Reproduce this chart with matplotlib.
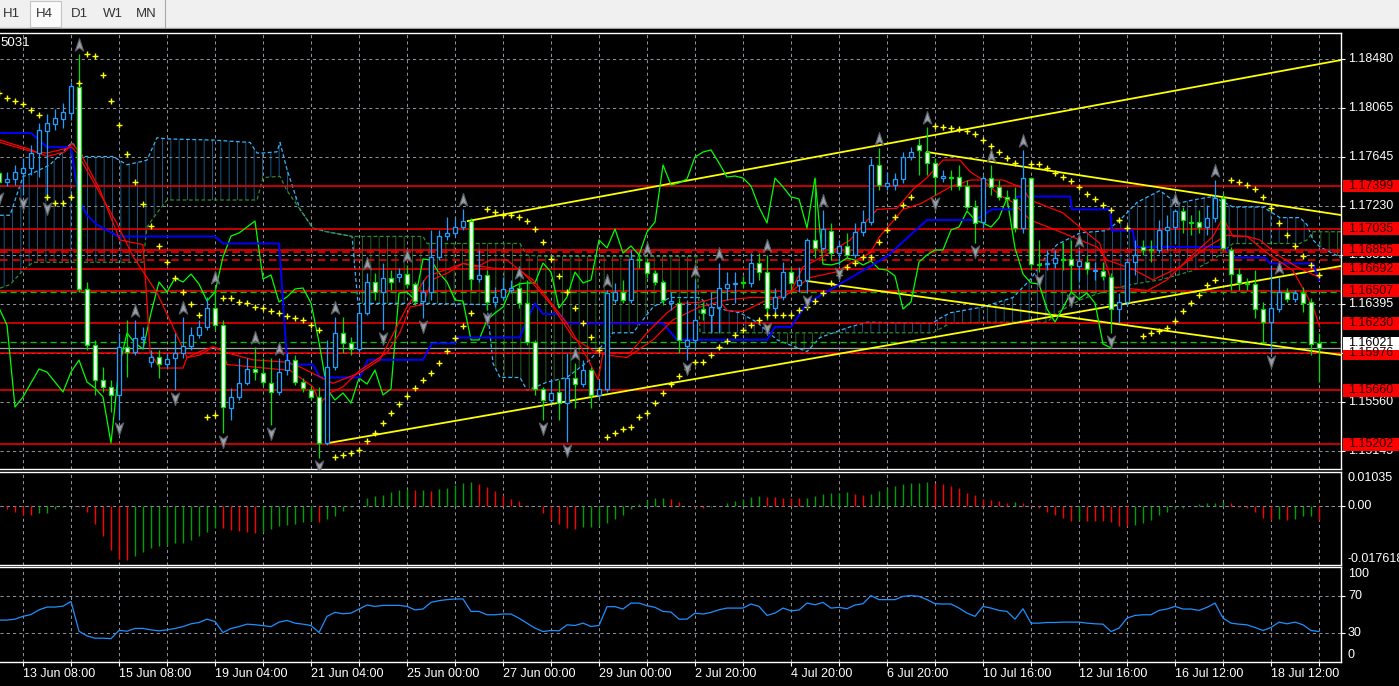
import numpy as np
import matplotlib
matplotlib.use('Agg')
import matplotlib.pyplot as plt
import matplotlib.transforms as mtransforms
from matplotlib.patches import Rectangle
from matplotlib.path import Path

# ---- H4 candles (EURUSD) ----
opens = [1.17510, 1.17433, 1.17459, 1.17510, 1.17552, 1.17680, 1.17867, 1.17927, 1.17969, 1.18020,
         1.18242, 1.16523, 1.16046, 1.15748, 1.15689, 1.15621, 1.16029, 1.15986, 1.16097, 1.15901,
         1.15944, 1.15884, 1.15935, 1.15978, 1.16038, 1.16131, 1.16199, 1.16361, 1.16216, 1.15510,
         1.15604, 1.15723, 1.15842, 1.15808, 1.15723, 1.15646, 1.15833, 1.15918, 1.15731, 1.15663,
         1.15604, 1.15212, 1.15859, 1.16148, 1.16063, 1.16012, 1.16318, 1.16582, 1.16497, 1.16616,
         1.16625, 1.16650, 1.16565, 1.16420, 1.16497, 1.16795, 1.16974, 1.16999, 1.17050, 1.17101,
         1.16608, 1.16642, 1.16412, 1.16455, 1.16514, 1.16531, 1.16403, 1.16072, 1.15672, 1.15578,
         1.15646, 1.15552, 1.15765, 1.15714, 1.15833, 1.15621, 1.15672, 1.16429, 1.16497, 1.16429,
         1.16778, 1.16752, 1.16659, 1.16582, 1.16403, 1.16403, 1.16038, 1.16089, 1.16352, 1.16301,
         1.16369, 1.16531, 1.16565, 1.16582, 1.16574, 1.16744, 1.16667, 1.16361, 1.16455, 1.16667,
         1.16557, 1.16599, 1.16940, 1.16872, 1.17016, 1.16829, 1.16889, 1.16812, 1.17008, 1.17093,
         1.17578, 1.17399, 1.17408, 1.17459, 1.17646, 1.17748, 1.17688, 1.17595, 1.17467, 1.17476,
         1.17476, 1.17399, 1.17220, 1.17093, 1.17467, 1.17391, 1.17306, 1.17289, 1.17042, 1.17467,
         1.16735, 1.16735, 1.16744, 1.16778, 1.16778, 1.16718, 1.16752, 1.16676, 1.16676, 1.16625,
         1.16352, 1.16412, 1.16752, 1.16880, 1.16863, 1.16855, 1.17025, 1.17050, 1.17186, 1.17093,
         1.17093, 1.17050, 1.17127, 1.17297, 1.16855, 1.16650, 1.16574, 1.16565, 1.16352, 1.16242,
         1.16352, 1.16497, 1.16438, 1.16489, 1.16412, 1.16063]
highs = [1.17535, 1.17518, 1.17578, 1.17637, 1.17748, 1.17935, 1.18012, 1.18054, 1.18105, 1.18284,
         1.18522, 1.16582, 1.16089, 1.15859, 1.15748, 1.16148, 1.16259, 1.16259, 1.16199, 1.16003,
         1.16003, 1.15978, 1.16148, 1.16284, 1.16199, 1.16259, 1.16455, 1.16540, 1.16259, 1.15680,
         1.15935, 1.15935, 1.16029, 1.15935, 1.15935, 1.15935, 1.15978, 1.15961, 1.15765, 1.15697,
         1.15689, 1.16089, 1.16284, 1.16284, 1.16114, 1.16403, 1.16659, 1.16659, 1.16744, 1.16684,
         1.16701, 1.16727, 1.16582, 1.16599, 1.17025, 1.17025, 1.17135, 1.17135, 1.17203, 1.17127,
         1.16854, 1.16684, 1.16540, 1.16625, 1.16599, 1.16582, 1.16599, 1.16089, 1.15689, 1.15740,
         1.15748, 1.15978, 1.15893, 1.15918, 1.15859, 1.15748, 1.16514, 1.16574, 1.16599, 1.16854,
         1.16820, 1.16786, 1.16684, 1.16599, 1.16497, 1.16446, 1.16429, 1.16599, 1.16412, 1.16497,
         1.16744, 1.16667, 1.16667, 1.16633, 1.16829, 1.16829, 1.16812, 1.16531, 1.16752, 1.16710,
         1.16710, 1.16957, 1.17467, 1.17195, 1.17084, 1.16940, 1.16999, 1.17084, 1.17195, 1.17637,
         1.17723, 1.17518, 1.17510, 1.17688, 1.17731, 1.17808, 1.17901, 1.17637, 1.17535, 1.17535,
         1.17578, 1.17450, 1.17280, 1.17493, 1.17578, 1.17450, 1.17365, 1.17391, 1.17706, 1.17476,
         1.16940, 1.16854, 1.16854, 1.16923, 1.16940, 1.16854, 1.16812, 1.16752, 1.16752, 1.16659,
         1.16489, 1.16786, 1.16940, 1.16940, 1.16940, 1.17110, 1.17152, 1.17203, 1.17220, 1.17152,
         1.17195, 1.17237, 1.17450, 1.17340, 1.16880, 1.16701, 1.16616, 1.16684, 1.16412, 1.16727,
         1.16625, 1.16531, 1.16514, 1.16540, 1.16446, 1.16148]
lows = [1.17365, 1.17399, 1.17408, 1.17323, 1.17493, 1.17476, 1.17280, 1.17876, 1.17893, 1.17961,
        1.16497, 1.16003, 1.15621, 1.15646, 1.15476, 1.15408, 1.15774, 1.15961, 1.16021, 1.15859,
        1.15765, 1.15850, 1.15663, 1.15935, 1.16003, 1.16106, 1.16174, 1.16174, 1.15297, 1.15408,
        1.15578, 1.15706, 1.15748, 1.15697, 1.15365, 1.15621, 1.15791, 1.15706, 1.15646, 1.15578,
        1.15084, 1.15195, 1.15833, 1.15978, 1.15961, 1.15986, 1.16301, 1.16429, 1.16174, 1.16514,
        1.16582, 1.16531, 1.16386, 1.16276, 1.16429, 1.16769, 1.16940, 1.16974, 1.17025, 1.16514,
        1.16582, 1.16344, 1.16369, 1.16429, 1.16489, 1.16361, 1.16046, 1.15621, 1.15408, 1.15552,
        1.15408, 1.15221, 1.15510, 1.15689, 1.15510, 1.15595, 1.15646, 1.16403, 1.16403, 1.16403,
        1.16701, 1.16616, 1.16557, 1.16386, 1.16344, 1.15978, 1.15918, 1.16029, 1.16259, 1.16148,
        1.16148, 1.16429, 1.16403, 1.16531, 1.16540, 1.16599, 1.16259, 1.16301, 1.16429, 1.16514,
        1.16497, 1.16489, 1.16786, 1.16855, 1.16769, 1.16727, 1.16786, 1.16786, 1.16974, 1.17067,
        1.17365, 1.17365, 1.17365, 1.17425, 1.17620, 1.17493, 1.17493, 1.17323, 1.17433, 1.17365,
        1.17365, 1.17195, 1.16914, 1.17042, 1.17323, 1.17280, 1.17237, 1.17008, 1.16999, 1.16684,
        1.16667, 1.16684, 1.16701, 1.16684, 1.16497, 1.16599, 1.16650, 1.16599, 1.16599, 1.16148,
        1.16233, 1.16386, 1.16642, 1.16812, 1.16752, 1.16829, 1.16855, 1.16914, 1.16999, 1.16982,
        1.16999, 1.16982, 1.17093, 1.16855, 1.16514, 1.16514, 1.16514, 1.16276, 1.16063, 1.15978,
        1.16327, 1.16412, 1.16412, 1.16327, 1.15961, 1.15731]
closes = [1.17433, 1.17459, 1.17518, 1.17552, 1.17680, 1.17876, 1.17935, 1.17978, 1.18029, 1.18250,
          1.16523, 1.16046, 1.15748, 1.15689, 1.15621, 1.16029, 1.15986, 1.16106, 1.16114, 1.15944,
          1.15884, 1.15927, 1.15978, 1.16038, 1.16131, 1.16199, 1.16361, 1.16216, 1.15518, 1.15604,
          1.15723, 1.15842, 1.15816, 1.15731, 1.15646, 1.15816, 1.15918, 1.15731, 1.15680, 1.15604,
          1.15212, 1.15859, 1.16148, 1.16063, 1.16012, 1.16318, 1.16582, 1.16497, 1.16616, 1.16582,
          1.16650, 1.16565, 1.16420, 1.16497, 1.16795, 1.16974, 1.16999, 1.17050, 1.17101, 1.16608,
          1.16642, 1.16412, 1.16455, 1.16523, 1.16531, 1.16403, 1.16072, 1.15672, 1.15578, 1.15638,
          1.15552, 1.15765, 1.15714, 1.15833, 1.15621, 1.15672, 1.16489, 1.16497, 1.16429, 1.16778,
          1.16769, 1.16659, 1.16582, 1.16429, 1.16420, 1.16089, 1.16089, 1.16259, 1.16318, 1.16369,
          1.16531, 1.16565, 1.16574, 1.16574, 1.16744, 1.16667, 1.16361, 1.16455, 1.16667, 1.16574,
          1.16599, 1.16940, 1.16872, 1.17033, 1.16829, 1.16889, 1.16812, 1.17008, 1.17093, 1.17578,
          1.17408, 1.17425, 1.17459, 1.17646, 1.17688, 1.17706, 1.17595, 1.17476, 1.17484, 1.17467,
          1.17399, 1.17220, 1.17084, 1.17467, 1.17391, 1.17306, 1.17289, 1.17042, 1.17467, 1.16735,
          1.16727, 1.16744, 1.16786, 1.16769, 1.16727, 1.16761, 1.16693, 1.16684, 1.16633, 1.16352,
          1.16412, 1.16752, 1.16812, 1.16855, 1.16855, 1.17025, 1.17050, 1.17186, 1.17110, 1.17084,
          1.17050, 1.17127, 1.17297, 1.16872, 1.16650, 1.16574, 1.16565, 1.16352, 1.16242, 1.16361,
          1.16497, 1.16438, 1.16489, 1.16403, 1.16055, 1.16021]

# ---- indicator lines (bar index, price) ----
tenkan_x = [0.13, 3.9, 6, 8.25, 9.1, 10.1, 12.6, 15.1, 18, 18.4, 18.9, 20.1, 23, 23.5, 25.1, 26.75, 28, 28.5,
            36.4, 37.6, 39.25, 40.1, 41.4, 43, 45.1, 48.5, 50.1, 51.4, 53, 54.1, 56.1, 58, 59.75, 61.4, 63.5,
            65.1, 66.75, 68.5, 71, 73.5, 74.9, 75.5, 78.9, 81, 83.5, 85.1, 87.6, 89.75, 91, 93, 96, 98, 99.75,
            101.4, 104.75, 106.4, 108.9, 110.1, 113, 115.25, 118.9, 121.4, 125.5, 128, 128.9, 133, 135.1,
            137.6, 139.25, 143.6, 146, 148.5, 151.75, 153, 154.25, 156, 158.5, 161.75, 164.25, 165.1]
tenkan_y = [1.1779, 1.1771, 1.1765, 1.1769, 1.1776, 1.1769, 1.1737, 1.1694, 1.1690, 1.1651, 1.1598, 1.1585,
            1.1585, 1.1594, 1.1599, 1.1603, 1.1600, 1.1588, 1.1583, 1.1577, 1.1569, 1.1555, 1.1564, 1.1569,
            1.1583, 1.1598, 1.1615, 1.1637, 1.1639, 1.1660, 1.1666, 1.1674, 1.1671, 1.1677, 1.1677, 1.1668,
            1.1660, 1.1645, 1.1623, 1.1594, 1.1575, 1.1598, 1.1598, 1.1615, 1.1632, 1.1640, 1.1641, 1.1645,
            1.1634, 1.1633, 1.1643, 1.1645, 1.1654, 1.1662, 1.1667, 1.1674, 1.1683, 1.1697, 1.1720, 1.1725,
            1.1739, 1.1745, 1.1745, 1.1738, 1.1728, 1.1717, 1.1705, 1.1691, 1.1654, 1.1651, 1.1660, 1.1677,
            1.1697, 1.1713, 1.1697, 1.1697, 1.1683, 1.1668, 1.1637, 1.1620]
ma_x = [0.13, 4.25, 6, 9.1, 9.75, 14.75, 16.75, 19.75, 21.75, 23.5, 25.1, 26.75, 28.5, 31.75, 36, 37.6, 41.75,
        45.1, 47.6, 51, 53.5, 58, 61.75, 65.1, 66.75, 69.25, 71.75, 74.25, 76, 78.5, 81.75, 84.25, 87.6, 91,
        93.9, 97.25, 98.9, 100.5, 103, 106.4, 109.75, 112.25, 114.25, 116, 118, 120.1, 121.4, 123, 125.1,
        126.75, 128.9, 132.6, 135.1, 137.25, 138.5, 141.75, 144.25, 147.6, 151, 153.5, 156, 157.6, 160.1,
        162.25, 165.1]
ma_y = [1.1777, 1.1769, 1.1768, 1.1773, 1.1768, 1.1708, 1.1680, 1.1649, 1.1620, 1.1594, 1.1596, 1.1603,
        1.1598, 1.1592, 1.1590, 1.1586, 1.1572, 1.1581, 1.1592, 1.1637, 1.1663, 1.1674, 1.1670, 1.1669,
        1.1657, 1.1637, 1.1611, 1.1600, 1.1596, 1.1594, 1.1609, 1.1626, 1.1637, 1.1643, 1.1645, 1.1645,
        1.1649, 1.1671, 1.1680, 1.1694, 1.1720, 1.1721, 1.1737, 1.1747, 1.1762, 1.1762, 1.1752, 1.1745,
        1.1732, 1.1726, 1.1711, 1.1701, 1.1694, 1.1688, 1.1677, 1.1669, 1.1660, 1.1671, 1.1688, 1.1698,
        1.1697, 1.1694, 1.1680, 1.1671, 1.1662]
kijun_x = [0.125, 4, 6, 9, 10, 11, 12.25, 14.9, 27, 28, 35, 36, 36.6, 39.25, 40.1, 45.1, 46.1, 53, 54.1, 57,
           57.25, 65.1, 66, 67, 68, 70.1, 71, 83, 84.75, 96, 97, 99, 101, 108, 111, 116, 122, 123, 124.1,
           126.75, 127.25, 133.9, 134.1, 138.9, 139.1, 141.75, 142, 153.25, 154.25, 158.25, 158.9, 164.25, 165]
kijun_y = [1.1785, 1.1785, 1.1773, 1.1773, 1.1728, 1.1715, 1.1707, 1.1697, 1.1697, 1.1691, 1.1691, 1.1592,
           1.1588, 1.1588, 1.1577, 1.1577, 1.1592, 1.1592, 1.1606, 1.1606, 1.1611, 1.1611, 1.1626, 1.1640,
           1.1631, 1.1631, 1.1623, 1.1623, 1.1609, 1.1609, 1.1620, 1.1620, 1.1640, 1.1668, 1.1680, 1.1711,
           1.1711, 1.1715, 1.1720, 1.1720, 1.1731, 1.1731, 1.1720, 1.1720, 1.1702, 1.1702, 1.1688, 1.1688,
           1.1679, 1.1679, 1.1674, 1.1674, 1.1660]
cloud_x = [0.125, 1.375, 3, 4.25, 6.375, 9.125, 10.5, 14.25, 16, 18, 18.5, 19.75, 21, 26.75, 31.375, 32.25,
           33, 34.75, 35.125, 36, 37.625, 39.25, 41, 44.125, 44.875, 53, 53.5, 61, 61.75, 62.625, 65.125, 66,
           68.5, 71, 73.875, 76.75, 79.25, 81.75, 83.875, 87.25, 87.625, 88.875, 92.625, 94.75, 97.25, 101,
           102.625, 106.375, 108.5, 116.75, 117.25, 118.875, 123, 126.75, 128.875, 131, 132.25, 135.125,
           138.5, 140.125, 142.25, 145.125, 147.25, 149.25, 151.75, 154.25, 158, 160.125, 162.625, 163.5,
           164.25, 165.125, 167.75]
span_a = [1.1715, 1.1715, 1.1748, 1.1751, 1.1758, 1.1777, 1.1765, 1.1765, 1.1758, 1.1761, 1.1762, 1.1781,
          1.1780, 1.1779, 1.1777, 1.1768, 1.1768, 1.1769, 1.1777, 1.1754, 1.1720, 1.1704, 1.1701, 1.1697,
          1.1640, 1.1640, 1.1640, 1.1639, 1.1589, 1.1577, 1.1577, 1.1566, 1.1573, 1.1577, 1.1592, 1.1615,
          1.1615, 1.1637, 1.1645, 1.1645, 1.1645, 1.1637, 1.1632, 1.1624, 1.1609, 1.1599, 1.1611, 1.1620,
          1.1624, 1.1623, 1.1626, 1.1632, 1.1637, 1.1645, 1.1660, 1.1681, 1.1690, 1.1700, 1.1702, 1.1711,
          1.1726, 1.1736, 1.1725, 1.1728, 1.1731, 1.1722, 1.1722, 1.1713, 1.1713, 1.1707, 1.1694, 1.1688,
          1.1679]
span_b = [1.1653, 1.1656, 1.1668, 1.1675, 1.1675, 1.1675, 1.1675, 1.1675, 1.1675, 1.1675, 1.1705, 1.1717,
          1.1728, 1.1728, 1.1728, 1.1728, 1.1747, 1.1748, 1.1748, 1.1736, 1.1720, 1.1704, 1.1701, 1.1697,
          1.1697, 1.1697, 1.1691, 1.1691, 1.1691, 1.1691, 1.1691, 1.1681, 1.1680, 1.1680, 1.1680, 1.1680,
          1.1680, 1.1680, 1.1680, 1.1680, 1.1615, 1.1615, 1.1615, 1.1615, 1.1615, 1.1615, 1.1615, 1.1615,
          1.1615, 1.1615, 1.1617, 1.1623, 1.1624, 1.1624, 1.1624, 1.1624, 1.1632, 1.1643, 1.1651, 1.1654,
          1.1657, 1.1660, 1.1664, 1.1668, 1.1677, 1.1691, 1.1691, 1.1691, 1.1691, 1.1694, 1.1701, 1.1701,
          1.1701]

sar_bars = [0, 1, 2, 3, 4, 5, 6, 7, 8, 9, 10, 11, 12, 13, 14, 15, 16, 17, 18, 19, 20, 21, 22, 23, 24, 25,
            26, 27, 28, 29, 30, 31, 32, 33, 34, 35, 36, 37, 38, 39, 40, 42, 43, 44, 45, 46, 47, 48, 49, 50,
            51, 52, 53, 54, 55, 56, 57, 58, 59, 61, 62, 63, 64, 65, 66, 67, 68, 69, 70, 71, 72, 73, 74, 75,
            76, 77, 78, 79, 80, 81, 82, 83, 84, 85, 86, 87, 88, 89, 90, 91, 92, 93, 94, 95, 96, 97, 98, 99,
            100, 101, 102, 103, 104, 105, 106, 107, 108, 109, 110, 111, 112, 113, 114, 117, 118, 119, 120,
            121, 122, 123, 124, 125, 126, 127, 129, 130, 131, 132, 133, 134, 135, 136, 137, 138, 139, 140,
            141, 143, 144, 145, 146, 147, 148, 149, 150, 151, 152, 154, 155, 156, 157, 158, 159, 160, 161,
            162, 163, 164, 165]
sar_vals = [1.18191, 1.18148, 1.18122, 1.18097, 1.18046, 1.18003, 1.17306, 1.17255, 1.17255, 1.17306,
            1.18276, 1.18522, 1.18505, 1.18344, 1.18122, 1.17918, 1.17671, 1.17433, 1.17246, 1.17059,
            1.16889, 1.16752, 1.16616, 1.16497, 1.16395, 1.16301, 1.15433, 1.15450, 1.16446, 1.16446,
            1.16412, 1.16403, 1.16369, 1.16361, 1.16335, 1.16318, 1.16293, 1.16276, 1.16259, 1.16216,
            1.16174, 1.15093, 1.15110, 1.15127, 1.15153, 1.15229, 1.15297, 1.15382, 1.15467, 1.15544,
            1.15612, 1.15680, 1.15748, 1.15808, 1.15893, 1.15995, 1.16106, 1.16208, 1.16318, 1.17203,
            1.17178, 1.17152, 1.17152, 1.17135, 1.17101, 1.17033, 1.16923, 1.16778, 1.16633, 1.16497,
            1.16361, 1.16233, 1.16114, 1.16003, 1.15263, 1.15297, 1.15331, 1.15348, 1.15433, 1.15467,
            1.15552, 1.15638, 1.15714, 1.15782, 1.15842, 1.15901, 1.15901, 1.15961, 1.16029, 1.16080,
            1.16131, 1.16174, 1.16216, 1.16259, 1.16301, 1.16301, 1.16301, 1.16301, 1.16344, 1.16369,
            1.16420, 1.16489, 1.16574, 1.16642, 1.16710, 1.16744, 1.16795, 1.16795, 1.16923, 1.17025,
            1.17135, 1.17237, 1.17306, 1.17910, 1.17901, 1.17893, 1.17884, 1.17867, 1.17842, 1.17791,
            1.17740, 1.17688, 1.17637, 1.17595, 1.17586, 1.17586, 1.17552, 1.17510, 1.17476, 1.17442,
            1.17391, 1.17331, 1.17289, 1.17237, 1.17195, 1.17110, 1.17042, 1.16123, 1.16148, 1.16165,
            1.16191, 1.16250, 1.16335, 1.16403, 1.16472, 1.16557, 1.16599, 1.17450, 1.17433, 1.17408,
            1.17374, 1.17306, 1.17212, 1.17084, 1.16982, 1.16889, 1.16803, 1.16727, 1.16642]

fractal_up = [10, 17, 23, 27, 32, 35, 42, 46, 51, 58, 65, 72, 76, 81, 87, 90, 96, 103, 110, 116, 124, 128,
              135, 147, 152, 160]
fractal_down = [0, 3, 6, 15, 22, 28, 34, 40, 48, 53, 61, 68, 71, 86, 96, 101, 105, 117, 122, 130, 134, 139,
                159]

levels = [1.17399, 1.17035, 1.16855, 1.16692, 1.16507, 1.16230, 1.15976, 1.15660, 1.15202]
dashed_levels = [1.16837, 1.16769]
order_levels = [1.16497, 1.16072]
bid = 1.16021
trend_lines = [((58.6, 1.17101), (167.75, 1.18471)),
               ((41.0, 1.15210), (167.75, 1.16718)),
               ((116.0, 1.17688), (167.75, 1.17152)),
               ((101.0, 1.16591), (167.75, 1.15961))]
price_ticks = [1.18480, 1.18065, 1.17645, 1.17230, 1.16815, 1.16395, 1.15980, 1.15560, 1.15145]

macd = [-0.0002, -0.0007, -0.0017, -0.0025, -0.0026, -0.0020, -0.0019, -0.0008, -0.0002, 0.0002,
        -0.0002, -0.0017, -0.0052, -0.0090, -0.0130, -0.0159, -0.0160, -0.0149, -0.0137, -0.0125,
        -0.0119, -0.0115, -0.0110, -0.0109, -0.0102, -0.0090, -0.0077, -0.0065, -0.0066, -0.0070,
        -0.0074, -0.0077, -0.0080, -0.0077, -0.0067, -0.0060, -0.0055, -0.0052, -0.0047, -0.0045,
        -0.0046, -0.0037, -0.0029, -0.0014, -0.0002, 0.0000, 0.0025, 0.0031, 0.0034, 0.0042,
        0.0048, 0.0051, 0.0048, 0.0049, 0.0047, 0.0051, 0.0054, 0.0065, 0.0071, 0.0072,
        0.0068, 0.0057, 0.0045, 0.0033, 0.0021, 0.0015, 0.0005, 0.0001, -0.0020, -0.0042,
        -0.0054, -0.0066, -0.0069, -0.0062, -0.0061, -0.0060, -0.0050, -0.0039, -0.0025, -0.0009,
        0.0006, 0.0018, 0.0025, 0.0026, 0.0021, 0.0013, 0.0000, -0.0001, -0.0004, -0.0003,
        0.0000, 0.0010, 0.0015, 0.0021, 0.0028, 0.0030, 0.0028, 0.0027, 0.0026, 0.0025,
        0.0024, 0.0025, 0.0031, 0.0038, 0.0040, 0.0041, 0.0042, 0.0036, 0.0035, 0.0036,
        0.0045, 0.0055, 0.0061, 0.0066, 0.0069, 0.0070, 0.0072, 0.0071, 0.0066, 0.0061,
        0.0054, 0.0041, 0.0033, 0.0023, 0.0020, 0.0015, 0.0011, 0.0012, 0.0010, 0.0003,
        -0.0005, -0.0017, -0.0025, -0.0034, -0.0045, -0.0042, -0.0043, -0.0044, -0.0045, -0.0047,
        -0.0059, -0.0060, -0.0055, -0.0049, -0.0042, -0.0027, -0.0017, -0.0005, -0.0004, 0.0000,
        0.0008, 0.0010, 0.0011, 0.0013, 0.0010, -0.0001, -0.0004, -0.0017, -0.0034, -0.0042,
        -0.0039, -0.0040, -0.0039, -0.0029, -0.0028, -0.0042]
rsi = [44, 44, 45, 48, 50, 55, 58, 58, 59, 64,
       32, 27, 24.5, 24.5, 24, 33, 32, 35, 35, 33.5,
       32.4, 33.5, 35, 37, 40, 41.4, 45, 42.5, 30.6, 35,
       37, 39.6, 39, 38, 37, 41.8, 43.6, 40.7, 39.6, 38.2,
       30.6, 48, 52.3, 50.8, 51.5, 55.9, 60.2, 58.7, 59.8, 59.8,
       59.8, 58.7, 55, 55.9, 63, 64.9, 66, 66.7, 66.7, 53.3,
       53.3, 49.7, 49.7, 50.5, 50.5, 46, 40.7, 35.3, 31.7, 32.8,
       32.4, 38.9, 38.2, 40.7, 37.1, 38.2, 58.4, 58.4, 55.9, 62.3,
       62.3, 59.5, 57.7, 53.3, 52.6, 45, 45, 51.5, 50.5, 52.3,
       55.1, 56.9, 56.9, 56.9, 61.3, 58.7, 49, 51.5, 56.9, 54,
       54.8, 62.3, 60.5, 63, 56.9, 57.7, 56.2, 60.2, 61.6, 70.3,
       66, 66, 66, 69.5, 70.3, 69.5, 66, 61.6, 61.3, 61.3,
       56.9, 51.5, 48, 58.7, 56.9, 54.4, 53.3, 45, 56.2, 40.7,
       40.7, 41.4, 41.4, 41.8, 41.8, 41.8, 40.7, 40, 39.6, 31.7,
       35.3, 46.1, 49, 49.7, 49.7, 54.4, 55.9, 58.7, 55.9, 55.9,
       54.4, 57.7, 62.3, 46.1, 40.7, 39.6, 38.9, 36, 32.8, 36,
       41.8, 40, 41.8, 38.9, 32.8, 31.7]

time_labels = ['13 Jun 08:00', '15 Jun 08:00', '19 Jun 04:00', '21 Jun 04:00', '25 Jun 00:00',
               '27 Jun 00:00', '29 Jun 00:00', '2 Jul 20:00', '4 Jul 20:00', '6 Jul 20:00',
               '10 Jul 16:00', '12 Jul 16:00', '16 Jul 12:00', '18 Jul 12:00']
label_bars = list(range(3, 166, 12))
grid_bars = list(range(3, 166, 6))
timeframes = ['H1', 'H4', 'D1', 'W1', 'MN']

# ---- style ----
plt.rcParams['font.family'] = ['Liberation Sans', 'DejaVu Sans']
plt.rcParams['hatch.linewidth'] = 0.7
BULL = '#1e9eff'
BEAR = '#00e000'
GRID = '#8a919a'
W, H = 1399, 686
fig = plt.figure(figsize=(W / 100, H / 100), dpi=100, facecolor='black')


def px_axes(left, top, right, bottom):
    return fig.add_axes([left / W, 1 - bottom / H, (right - left) / W, (bottom - top) / H])


ax = px_axes(0, 33, 1341, 469)
ax_macd = px_axes(0, 472, 1341, 565)
ax_rsi = px_axes(0, 567, 1341, 662)

for a in (ax, ax_macd, ax_rsi):
    a.set_facecolor('black')
    a.set_xlim(0.125, 167.75)
    for s in ('top', 'right', 'bottom'):
        a.spines[s].set_color('white')
        a.spines[s].set_linewidth(1.0)
    a.spines['left'].set_visible(False)
    a.set_axisbelow(True)
    a.set_xticks(grid_bars)
    a.tick_params(axis='x', length=0, labelbottom=False)
    a.yaxis.tick_right()
    a.tick_params(axis='y', length=3, color='white', labelright=False)
    a.grid(True, color=GRID, linestyle=(0, (3, 3)), linewidth=0.75)
ax_rsi.tick_params(axis='x', length=3, color='white', direction='out')

ax.set_ylim(1.14991, 1.18701)
ax.set_yticks(price_ticks)
ax_macd.set_ylim(-0.017618, 0.01035)
ax_macd.set_yticks([0.0])
ax_rsi.set_ylim(-1.1, 101.1)
ax_rsi.set_yticks([70, 30])

bars = np.arange(len(closes))
o, hi, lo, c = (np.array(v) for v in (opens, highs, lows, closes))
ca, cb = np.array(span_a), np.array(span_b)

# ---- ichimoku cloud ----
ax.fill_between(cloud_x, ca, cb, where=ca >= cb, interpolate=True, facecolor='none',
                edgecolor='#2b8fd6', hatch='||', linewidth=0, alpha=0.6, zorder=1)
ax.fill_between(cloud_x, ca, cb, where=ca < cb, interpolate=True, facecolor='none',
                edgecolor='#2a7a2a', hatch='||', linewidth=0, alpha=0.8, zorder=1)
ax.plot(cloud_x, span_a, color='#35b4ff', lw=0.9, ls=(0, (3, 2)), zorder=2)
ax.plot(cloud_x, span_b, color='#2e8b2e', lw=0.9, ls=(0, (3, 2)), zorder=2)

# ---- horizontal levels ----
for lv in levels:
    ax.axhline(lv, color='#ff0000', lw=1.1, zorder=3)
for lv in dashed_levels:
    ax.axhline(lv, color='#ff0000', lw=1.1, ls=(0, (5, 3)), zorder=3)
for lv in order_levels:
    ax.axhline(lv, color='#00c800', lw=0.9, ls=(0, (5, 3)), zorder=3)
ax.axhline(bid, color='#a0a0a0', lw=0.9, zorder=3)

for (x0, y0), (x1, y1) in trend_lines:
    ax.plot([x0, x1], [y0, y1], color='#ffff00', lw=1.3, zorder=4)

# ---- ichimoku lines ----
ax.plot(bars - 26, closes, color='#00ff00', lw=0.9, zorder=4)
ax.plot(kijun_x, kijun_y, color='#0000ff', lw=1.4, zorder=4)
ax.plot(tenkan_x, tenkan_y, color='#ff0000', lw=0.9, zorder=4)
ax.plot(ma_x, ma_y, color='#ff0000', lw=0.9, zorder=4)

# ---- candles ----
bull = c >= o
ax.vlines(bars[bull], lo[bull], hi[bull], color=BULL, lw=0.9, zorder=5)
ax.vlines(bars[~bull], lo[~bull], hi[~bull], color=BEAR, lw=0.9, zorder=5)
ax.bar(bars[bull], np.maximum(c - o, 1e-6)[bull], bottom=o[bull], width=0.55,
       facecolor='black', edgecolor=BULL, lw=0.9, zorder=6)
ax.bar(bars[~bull], np.maximum(o - c, 1e-6)[~bull], bottom=c[~bull], width=0.55,
       facecolor='white', edgecolor=BEAR, lw=0.9, zorder=6)

# parabolic SAR
ax.plot(sar_bars, sar_vals, ls='none', marker='+', ms=4, mew=1.0, color='#ffff00', zorder=7)

# fractal arrows
up_path = Path([(0, 1), (0.6, -0.8), (0, -0.35), (-0.6, -0.8), (0, 1)],
               [Path.MOVETO, Path.LINETO, Path.LINETO, Path.LINETO, Path.CLOSEPOLY])
down_path = Path(up_path.vertices * [1, -1], up_path.codes)
up_off = ax.transData + mtransforms.ScaledTranslation(0, 0.09, fig.dpi_scale_trans)
down_off = ax.transData + mtransforms.ScaledTranslation(0, -0.08, fig.dpi_scale_trans)
ax.plot(fractal_up, hi[fractal_up], ls='none', marker=up_path, ms=10, mfc='#9aa0a8', mec='#5a6068',
        mew=0.8, transform=up_off, zorder=8)
ax.plot(fractal_down, lo[fractal_down], ls='none', marker=down_path, ms=10, mfc='#9aa0a8',
        mec='#5a6068', mew=0.8, transform=down_off, zorder=8)

ax.text(0.0005, 0.977, '5031', transform=ax.transAxes, color='white', fontsize=9.5,
        ha='left', va='center')

# ---- MACD histogram ----
macd_arr = np.array(macd)
rising = np.r_[False, macd_arr[1:] > macd_arr[:-1]]
ax_macd.vlines(bars, 0, macd_arr, colors=np.where(rising, '#00a000', '#ff0000'), lw=1.0)
ax_macd.axhline(0, color=GRID, lw=0.75, ls=(0, (3, 3)), zorder=0.5)

# ---- RSI ----
ax_rsi.plot(bars, rsi, color='#1e90ff', lw=0.9)

# ---- right-hand price labels ----
lab_x = 1348 / W
main_tr = mtransforms.blended_transform_factory(fig.transFigure, ax.transData)
for t in price_ticks:
    fig.text(lab_x, t, f'{t:.5f}', transform=main_tr, color='white', fontsize=9,
             va='center', ha='left', zorder=2)
box_h = 0.00108
for lv in levels:
    fig.add_artist(Rectangle((1343 / W, lv - box_h / 2), (W - 1343) / W, box_h, transform=main_tr,
                             facecolor='#ff0000', edgecolor='none', zorder=3))
    fig.text(lab_x, lv, f'{lv:.5f}', transform=main_tr, color='#2a0000', fontsize=9,
             va='center', ha='left', zorder=4)
fig.add_artist(Rectangle((1343 / W, bid + 0.0004 - box_h / 2), (W - 1343) / W, box_h, transform=main_tr,
                         facecolor='white', edgecolor='none', zorder=3))
fig.text(lab_x, bid + 0.0004, f'{bid:.5f}', transform=main_tr, color='black', fontsize=9,
         va='center', ha='left', zorder=4)

macd_tr = mtransforms.blended_transform_factory(fig.transFigure, ax_macd.transData)
fig.text(lab_x, 0.01035, '0.01035', transform=macd_tr, color='white', fontsize=9, va='top')
fig.text(lab_x, 0.0, '0.00', transform=macd_tr, color='white', fontsize=9, va='center')
fig.text(lab_x, -0.017618, '-0.017618', transform=macd_tr, color='white', fontsize=9, va='bottom')

rsi_tr = mtransforms.blended_transform_factory(fig.transFigure, ax_rsi.transData)
fig.text(lab_x, 100, '100', transform=rsi_tr, color='white', fontsize=9, va='top')
fig.text(lab_x, 70, '70', transform=rsi_tr, color='white', fontsize=9, va='center')
fig.text(lab_x, 30, '30', transform=rsi_tr, color='white', fontsize=9, va='center')
fig.text(lab_x, 0, '0', transform=rsi_tr, color='white', fontsize=9, va='bottom')

# ---- time axis ----
time_tr = mtransforms.blended_transform_factory(ax_rsi.transData, fig.transFigure)
for b, lab in zip(label_bars, time_labels):
    fig.text(b - 0.05, 1 - 674 / H, lab, transform=time_tr, color='white', fontsize=9,
             ha='left', va='center')

# ---- timeframe toolbar ----
tb = px_axes(0, 0, W, 29)
tb.set_xlim(0, W)
tb.set_ylim(29, 0)
tb.set_facecolor('#f0f0f0')
tb.axis('off')
tb.add_patch(Rectangle((0, 0), W, 28, facecolor='#f0f0f0', edgecolor='none'))
tb.add_patch(Rectangle((29.5, 0.5), 31, 26, facecolor='#fbfbfb', edgecolor='#c4c4c4', lw=0.8))
tb.plot([164.5, 164.5], [0, 28], color='#a8a8a8', lw=0.8)
tb.plot([0, W], [28, 28], color='#a0a0a0', lw=1.0)
for tf, xc in zip(timeframes, [11, 44, 79, 113, 146]):
    tb.text(xc, 14, tf, color='#333333', fontsize=9.5, ha='center', va='center')

fig.savefig('out.png', dpi=100, facecolor='black')
